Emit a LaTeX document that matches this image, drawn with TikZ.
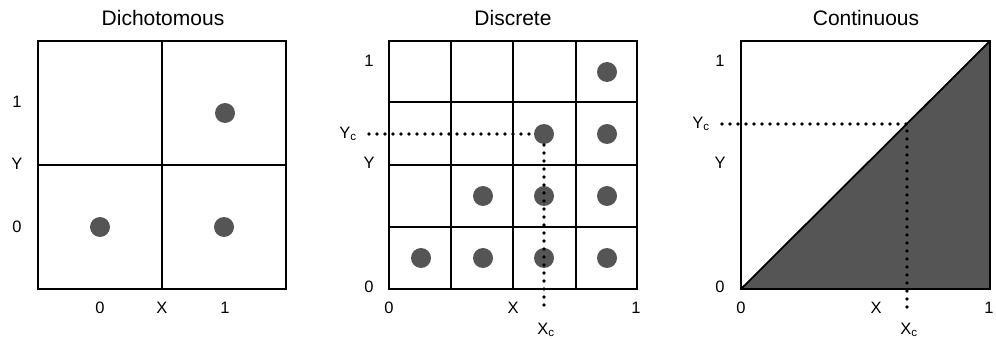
\documentclass[tikz,border=0pt]{standalone}
\usepackage{fontspec}
\setmainfont{Liberation Sans}
\usepackage{xcolor}
\usetikzlibrary{positioning}
\definecolor{dotgray}{RGB}{85,85,85}
\tikzset{
    box/.style={line width=1.8pt},
    gridline/.style={line width=1.4pt},
    guide/.style={line width=3.6pt, line cap=round, dash pattern=on 0pt off 8pt},
    title/.style={font=\fontsize{21}{24}\selectfont, inner sep=0pt},
    axislabel/.style={font=\fontsize{16.5}{19}\selectfont, inner sep=0pt},
}
\begin{document}
\begin{tikzpicture}[x=1pt, y=-1pt]

    \useasboundingbox (0,0) rectangle (996,339);

    % Titles
    \node[title] (dichTitle) at (163,18) {Dichotomous};
    \node[title] (discTitle) at (513,18) {Discrete};
    \node[title] (contTitle) at (866,18) {Continuous};

    % Dichotomous panel: 2x2 grid
    \draw[box] (38,41) rectangle (286,289);
    \draw[gridline] (162,41) -- (162,289);
    \draw[gridline] (38,165) -- (286,165);
    \fill[dotgray] (225,113) circle (10pt);
    \fill[dotgray] (100,227) circle (10pt);
    \fill[dotgray] (224,227) circle (10pt);

    % Dichotomous axis labels
    \node[axislabel] (dichY1) at (17,102) {1};
    \node[axislabel] (dichY) at (17,164) {Y};
    \node[axislabel] (dichY0) at (17,227) {0};
    \node[axislabel] (dichX0) at (100,308) {0};
    \node[axislabel] (dichX) at (162,308) {X};
    \node[axislabel] (dichX1) at (225,308) {1};

    % Discrete panel: 4x4 grid
    \draw[box] (389,41) rectangle (637,289);
    \draw[gridline] (451,41) -- (451,289);
    \draw[gridline] (513,41) -- (513,289);
    \draw[gridline] (576,41) -- (576,289);
    \draw[gridline] (389,102) -- (637,102);
    \draw[gridline] (389,165) -- (637,165);
    \draw[gridline] (389,227) -- (637,227);

    % Discrete points, row by row from the top
    \fill[dotgray] (607,72) circle (10pt);
    \fill[dotgray] (544,134) circle (10pt);
    \fill[dotgray] (607,134) circle (10pt);
    \fill[dotgray] (483,196) circle (10pt);
    \fill[dotgray] (544,196) circle (10pt);
    \fill[dotgray] (607,196) circle (10pt);
    \fill[dotgray] (421,258) circle (10pt);
    \fill[dotgray] (483,258) circle (10pt);
    \fill[dotgray] (544,258) circle (10pt);
    \fill[dotgray] (607,258) circle (10pt);

    % Discrete cut-off guides
    \coordinate (discYcStart) at (369,134);
    \coordinate (discYcEnd) at (534,134);
    \coordinate (discXcStart) at (544,145);
    \coordinate (discXcEnd) at (544,308);
    \draw[guide] (discYcStart) -- (discYcEnd);
    \draw[guide] (discXcStart) -- (discXcEnd);

    % Discrete axis labels
    \node[axislabel] (discY1) at (369,61) {1};
    \node[axislabel] (discYc) at (348,134) {Y\textsubscript{c}};
    \node[axislabel] (discY) at (369,163) {Y};
    \node[axislabel] (discY0) at (369,287) {0};
    \node[axislabel] (discX0) at (389,308) {0};
    \node[axislabel] (discX) at (513,308) {X};
    \node[axislabel] (discX1) at (636,308) {1};
    \node[axislabel] (discXc) at (546,330) {X\textsubscript{c}};

    % Continuous panel: shaded triangle under the diagonal
    \fill[dotgray] (741,289) -- (990,289) -- (990,41) -- cycle;
    \draw[box] (741,41) rectangle (990,289);
    \draw[box] (741,289) -- (990,41);

    % Continuous cut-off guides
    \coordinate (contYcStart) at (722,124);
    \coordinate (contCut) at (907,124);
    \coordinate (contXcEnd) at (907,310);
    \draw[guide] (contYcStart) -- (contCut) -- (contXcEnd);

    % Continuous axis labels
    \node[axislabel] (contY1) at (720,61) {1};
    \node[axislabel] (contYc) at (701,124) {Y\textsubscript{c}};
    \node[axislabel] (contY) at (720,163) {Y};
    \node[axislabel] (contY0) at (720,287) {0};
    \node[axislabel] (contX0) at (741,308) {0};
    \node[axislabel] (contX) at (876,308) {X};
    \node[axislabel] (contX1) at (989,308) {1};
    \node[axislabel] (contXc) at (909,330) {X\textsubscript{c}};

\end{tikzpicture}
\end{document}
